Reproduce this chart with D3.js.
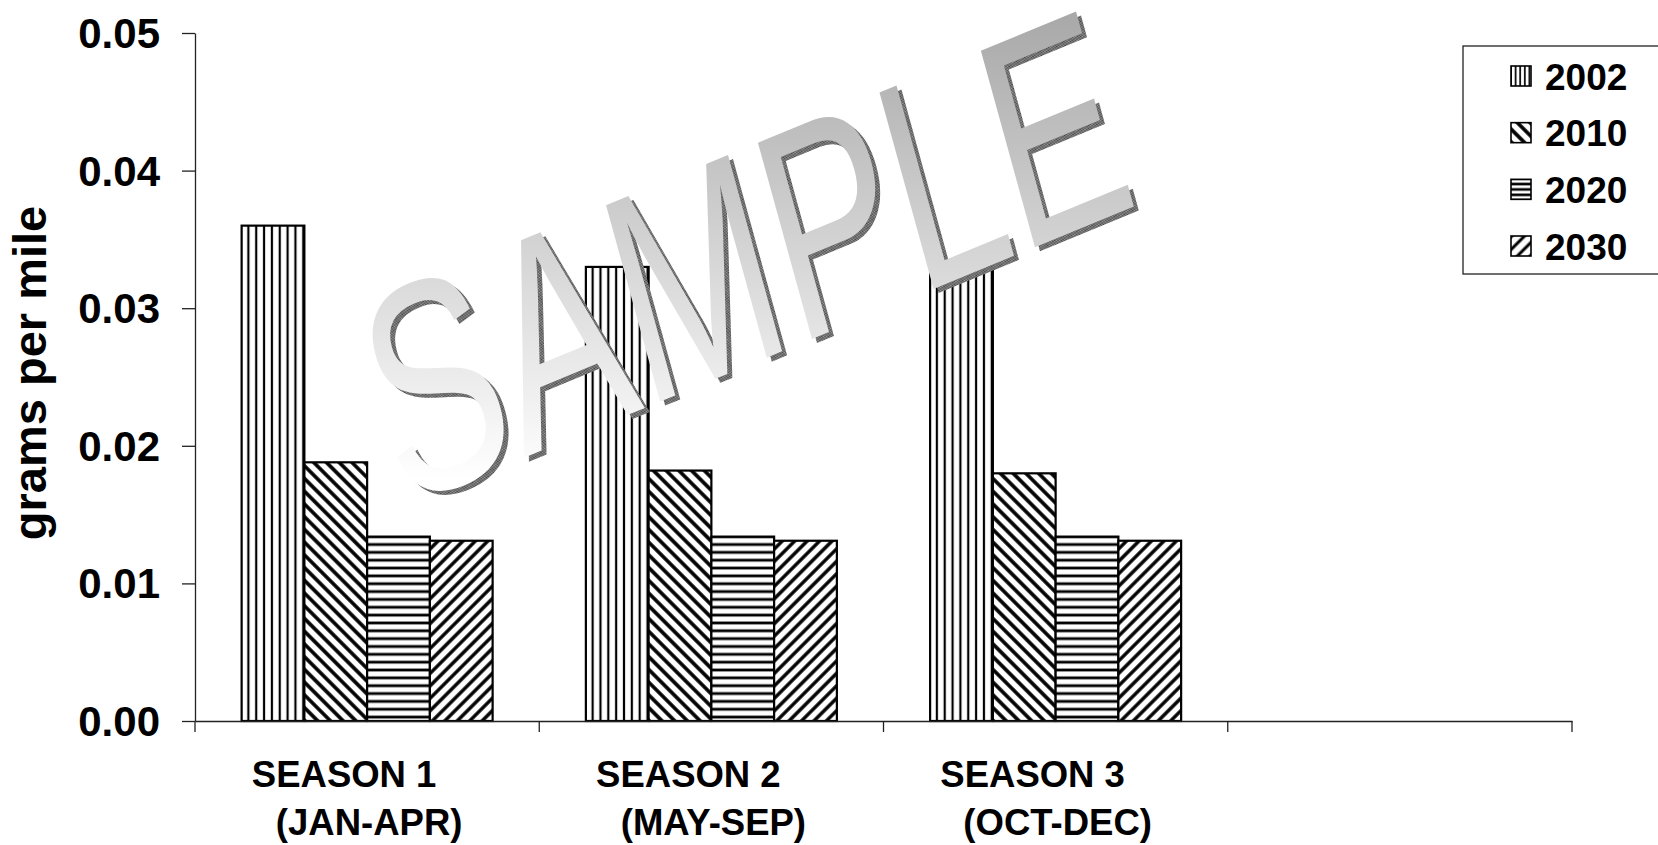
<!DOCTYPE html>
<html><head><meta charset="utf-8">
<script src="https://cdn.jsdelivr.net/npm/d3@7/dist/d3.min.js"></script>
<style>html,body{margin:0;padding:0;background:#fff;overflow:hidden}
text{font-family:"Liberation Sans",Arial,sans-serif}</style>
</head><body>
<svg id="chart" width="1658" height="845"></svg>
<script>
// ---- data ----
const categories = ["SEASON 1", "SEASON 2", "SEASON 3", ""];
const periods = ["(JAN-APR)", "(MAY-SEP)", "(OCT-DEC)", ""];
const years = ["2002", "2010", "2020", "2030"];
const v2002 = [0.036, 0.033, 0.033];
const v2010 = [0.0188, 0.0182, 0.0180];
const v2020 = [0.0134, 0.0134, 0.0134];
const v2030 = [0.0131, 0.0131, 0.0131];
const yTicks = [0, 0.01, 0.02, 0.03, 0.04, 0.05];
const yTitle = "grams per mile";
const watermark = "SAMPLE";

const seriesValues = {"2002": v2002, "2010": v2010, "2020": v2020, "2030": v2030};

// ---- layout ----
const plot = {left: 195, top: 33, right: 1572, bottom: 721};
const svg = d3.select("#chart");
const defs = svg.append("defs");

const y = d3.scaleLinear().domain([0, 0.05]).range([plot.bottom, plot.top]);
const x = d3.scaleBand().domain(d3.range(categories.length)).range([plot.left, plot.right]).paddingInner(0).paddingOuter(0);
const xs = d3.scaleBand().domain(years).range([0, x.bandwidth()]).paddingInner(0).paddingOuter(0.743);

// ---- patterns ----
const bw = xs.bandwidth();
const x0 = x(0) + xs(years[0]);
function stripes(id, period, thick, rot, ox) {
  const p = defs.append("pattern").attr("id", id).attr("patternUnits", "userSpaceOnUse")
    .attr("x", ox || 0).attr("y", 0).attr("width", period).attr("height", period);
  if (rot) p.attr("patternTransform", `rotate(${rot})`);
  p.append("rect").attr("width", period).attr("height", period).attr("fill", "#fff");
  p.append("rect").attr("x", -thick / 2).attr("width", thick).attr("height", period).attr("fill", "#000");
  p.append("rect").attr("x", period - thick / 2).attr("width", thick).attr("height", period).attr("fill", "#000");
  return p;
}
function hstripes(id, period, thick) {
  const p = defs.append("pattern").attr("id", id).attr("patternUnits", "userSpaceOnUse")
    .attr("x", 0).attr("y", y(0)).attr("width", period).attr("height", period);
  p.append("rect").attr("width", period).attr("height", period).attr("fill", "#fff");
  p.append("rect").attr("y", period / 2 - thick / 2).attr("width", period).attr("height", thick).attr("fill", "#000");
  return p;
}
stripes("p2002", bw / 8, 2.2, 0, x0);
stripes("p2010", 9, 3.6, -45, 0);
hstripes("p2020", bw / 8, 2.8);
stripes("p2030", 8.8, 3.4, 45, 0);
stripes("l2002", 4.6, 1.7, 0, 1511);
stripes("l2010", 9, 3.6, -45, 0);
hstripes("l2020", 5.4, 2.6);
stripes("l2030", 9, 3, 45, 0);

// ---- bars ----
const groups = svg.append("g").selectAll("g").data(categories.slice(0, 3)).join("g")
  .attr("transform", (d, i) => `translate(${x(i)},0)`);
groups.selectAll("rect").data((d, i) => years.map(yr => ({yr, v: seriesValues[yr][i]}))).join("rect")
  .attr("x", d => xs(d.yr)).attr("y", d => y(d.v))
  .attr("width", bw).attr("height", d => y(0) - y(d.v))
  .attr("fill", d => `url(#p${d.yr})`).attr("stroke", "#000").attr("stroke-width", 2.2);

// ---- axes ----
const fmt = d3.format(".2f");
const yAxis = svg.append("g").attr("transform", `translate(${plot.left},0)`)
  .call(d3.axisLeft(y).tickValues(yTicks).tickFormat(fmt).tickSize(13).tickSizeOuter(0));
yAxis.selectAll("path,line").attr("stroke", "#222").attr("stroke-width", 1.3);
yAxis.selectAll("text").attr("font-size", 42).attr("font-weight", "bold").attr("fill", "#000")
  .attr("x", -35).attr("dy", null).attr("dominant-baseline", "central");

const xAxis = svg.append("g").attr("transform", `translate(0,${plot.bottom})`)
  .call(d3.axisBottom(x).tickSize(0).tickSizeOuter(0).tickFormat(""));
xAxis.select("path").attr("stroke", "#222").attr("stroke-width", 1.3);
const bounds = d3.range(categories.length + 1).map(i => i < categories.length ? x(i) : x(i - 1) + x.bandwidth());
svg.append("g").selectAll("line").data(bounds).join("line")
  .attr("x1", d => d).attr("x2", d => d).attr("y1", plot.bottom).attr("y2", plot.bottom + 11)
  .attr("stroke", "#222").attr("stroke-width", 1.3);

const lab = svg.append("g").selectAll("g").data(categories).join("g")
  .attr("transform", (d, i) => `translate(${x(i) + x.bandwidth() / 2},0)`);
lab.append("text").text(d => d).attr("x", -23).attr("y", 787).attr("text-anchor", "middle")
  .attr("font-size", 36.5).attr("font-weight", "bold");
lab.append("text").text((d, i) => periods[i]).attr("x", 2).attr("y", 835).attr("text-anchor", "middle")
  .attr("font-size", 36.5).attr("font-weight", "bold");

svg.append("text").text(yTitle).attr("transform", "translate(46,373) rotate(-90)")
  .attr("text-anchor", "middle").attr("font-size", 47).attr("font-weight", "bold");

// ---- legend ----
const leg = svg.append("g");
leg.append("rect").attr("x", 1463).attr("y", 46).attr("width", 260).attr("height", 228)
  .attr("fill", "#fff").attr("stroke", "#222").attr("stroke-width", 1.3);
const ly = d3.scalePoint().domain(years).range([76, 246]);
const li = leg.selectAll("g.li").data(years).join("g").attr("class", "li")
  .attr("transform", d => `translate(0,${ly(d)})`);
li.append("rect").attr("x", 1511).attr("y", -10).attr("width", 20).attr("height", 20)
  .attr("fill", d => `url(#l${d})`).attr("stroke", "#000").attr("stroke-width", 1.6);
li.append("text").text(d => d).attr("x", 1545).attr("y", 1).attr("dominant-baseline", "central")
  .attr("font-size", 37).attr("font-weight", "bold");

// ---- watermark ----
const grad = defs.append("linearGradient").attr("id", "wmgrad").attr("gradientUnits", "userSpaceOnUse")
  .attr("x1", 0).attr("y1", 0).attr("x2", 0).attr("y2", 480);
grad.append("stop").attr("offset", 0).attr("stop-color", "#a6a6a6");
grad.append("stop").attr("offset", 1).attr("stop-color", "#ffffff");
const chk = defs.append("pattern").attr("id", "chk").attr("patternUnits", "userSpaceOnUse").attr("width", 2).attr("height", 2);
chk.append("rect").attr("width", 2).attr("height", 2).attr("fill", "#a0a0a0");
chk.append("rect").attr("width", 1).attr("height", 1).attr("fill", "#404040");
chk.append("rect").attr("x", 1).attr("y", 1).attr("width", 1).attr("height", 1).attr("fill", "#404040");

const M = "matrix(0.9245,-0.381,0.2656,0.9641,0,0)";
function wmText(sel) {
  return sel.append("text").text(watermark).attr("x", 0).attr("y", 0)
    .attr("font-size", 296).attr("textLength", 800).attr("lengthAdjust", "spacingAndGlyphs");
}
const clip = defs.append("clipPath").attr("id", "wmclip");
wmText(clip).attr("transform", `translate(402,508) ${M}`);
wmText(svg.append("g")).attr("transform", `translate(407,512) ${M}`).attr("fill", "url(#chk)");
svg.append("rect").attr("width", 1658).attr("height", 845).attr("fill", "url(#wmgrad)").attr("clip-path", "url(#wmclip)");
</script>
</body></html>
